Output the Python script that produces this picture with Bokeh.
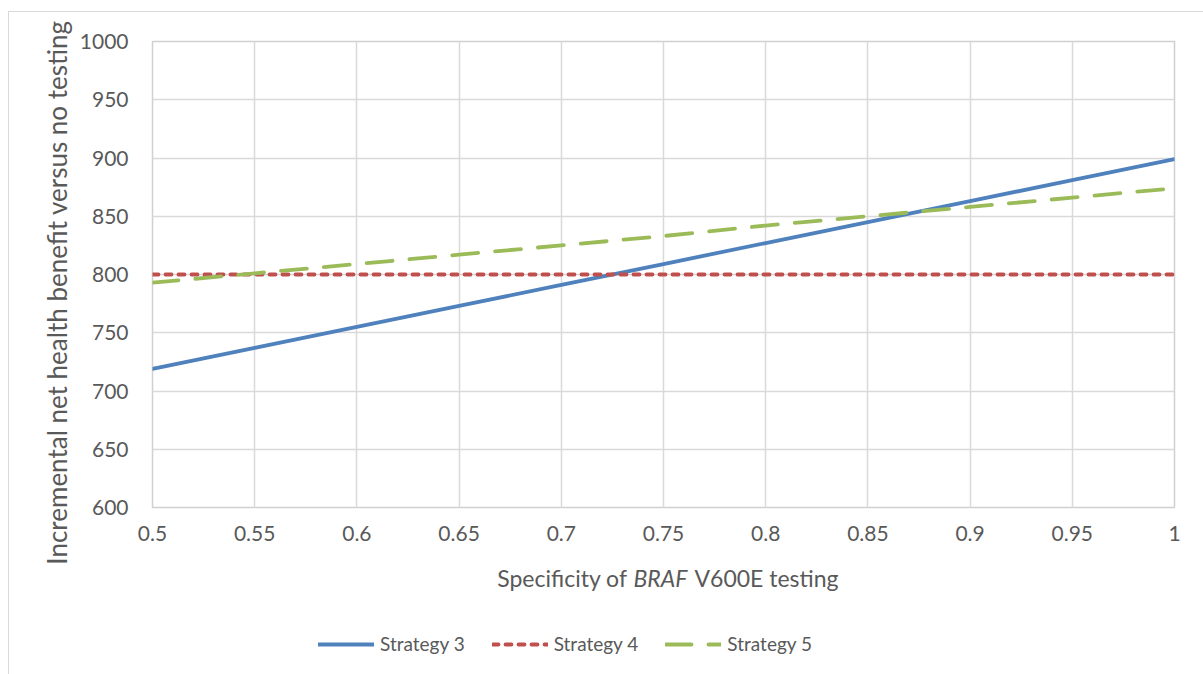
from math import pi
from bokeh.plotting import figure
from bokeh.models import Range1d, FixedTicker, Label, Legend, LegendItem
from bokeh.layouts import column, row
from bokeh.embed import file_html
from bokeh.resources import INLINE

# ---- data ----
specificity = [0.5, 0.55, 0.6, 0.65, 0.7, 0.75, 0.8, 0.85, 0.9, 0.95, 1.0]
strategy3 = [719, 737, 755, 773, 791, 809, 827, 845, 863, 881, 899]
strategy4 = [800, 800, 800, 800, 800, 800, 800, 800, 800, 800, 800]
strategy5 = [793, 801, 809, 817, 825, 833, 842, 850, 858, 866, 874]
series = [strategy3, strategy4, strategy5]
series_names = ["Strategy 3", "Strategy 4", "Strategy 5"]
series_colors = ["#4F81BD", "#C0504D", "#9BBB59"]
series_dashes = ["solid", "6 7", "26 17"]
x_ticks = [0.5, 0.55, 0.6, 0.65, 0.7, 0.75, 0.8, 0.85, 0.9, 0.95, 1.0]
x_tick_labels = ["0.5", "0.55", "0.6", "0.65", "0.7", "0.75", "0.8", "0.85", "0.9", "0.95", "1"]
y_ticks = [600, 650, 700, 750, 800, 850, 900, 950, 1000]
x_title_parts = ["Specificity of", "BRAF", "V600E testing"]
y_title = "Incremental net health benefit versus no testing"

FONT = "Lato"
TXT = "#595959"
GRID = "#d9d9d9"
LW = 3.8


def blank(width, height):
    f = figure(width=width, height=height, output_backend="svg", toolbar_location=None,
               x_range=Range1d(0, width), y_range=Range1d(0, height),
               min_border_left=0, min_border_right=0, min_border_top=0, min_border_bottom=0)
    f.axis.visible = False
    f.grid.visible = False
    f.outline_line_color = None
    f.background_fill_color = "white"
    f.border_fill_color = "white"
    return f


# ---- main chart ----
p = figure(width=1127, height=544, output_backend="svg", toolbar_location=None,
           x_range=Range1d(0.5, 1.0), y_range=Range1d(600, 1000),
           min_border_left=76, min_border_right=29, min_border_top=29, min_border_bottom=49)
p.background_fill_color = "white"
p.border_fill_color = "white"
p.outline_line_color = "#d0d0d0"
p.outline_line_width = 1.5

for ax in (p.xaxis[0], p.yaxis[0]):
    ax.axis_line_color = None
    ax.major_tick_line_color = None
    ax.minor_tick_line_color = None
    ax.major_tick_out = 0
    ax.major_tick_in = 0
    ax.minor_tick_out = 0
    ax.minor_tick_in = 0
    ax.major_label_text_font = FONT
    ax.major_label_text_font_size = "21px"
    ax.major_label_text_color = TXT

p.xaxis.ticker = FixedTicker(ticks=x_ticks)
p.xaxis.major_label_overrides = dict(zip(x_ticks, x_tick_labels))
p.xaxis.major_label_standoff = 18
p.yaxis.ticker = FixedTicker(ticks=y_ticks)
p.yaxis.major_label_standoff = 24

p.xgrid.ticker = FixedTicker(ticks=x_ticks)
p.ygrid.ticker = FixedTicker(ticks=y_ticks)
for g in (p.xgrid[0], p.ygrid[0]):
    g.grid_line_color = GRID
    g.grid_line_width = 1.5

for ys, c, d in zip(series, series_colors, series_dashes):
    p.line(specificity, ys, line_color=c, line_width=LW, line_dash=d, line_cap="round")

common = dict(x_units="screen", y_units="screen", text_font=FONT,
              text_color=TXT, text_baseline="middle")

# ---- left strip: y axis title ----
p_left = blank(67, 662)
p_left.add_layout(Label(x=47, y=382, text=y_title, angle=pi / 2, text_align="center",
                        text_font_size="26px", **common))

# ---- bottom strip: x axis title and legend (frame aligned with main frame) ----
p_bottom = blank(1127, 118)
p_bottom.add_layout(Label(x=475, y=97, text=x_title_parts[0], text_align="right",
                          text_font_size="23px", **common))
p_bottom.add_layout(Label(x=481, y=97, text=x_title_parts[1], text_align="left",
                          text_font_style="italic", text_font_size="23px", **common))
p_bottom.add_layout(Label(x=542, y=97, text=x_title_parts[2], text_align="left",
                          text_font_size="23px", **common))

# legend glyph sources: the same series, lying outside this strip's visible range
legend_renderers = [p_bottom.line(specificity, ys, line_color=c, line_width=LW, line_dash=d, line_cap="round")
                    for ys, c, d in zip(series, series_colors, series_dashes)]
legend = Legend(items=[LegendItem(label=n, renderers=[r]) for n, r in zip(series_names, legend_renderers)],
                orientation="horizontal", location=(166, 19))
legend.glyph_width = 56
legend.glyph_height = 20
legend.label_standoff = 6
legend.spacing = 27
legend.padding = 0
legend.margin = 0
legend.border_line_color = None
legend.background_fill_alpha = 0
legend.label_text_font = FONT
legend.label_text_font_size = "19px"
legend.label_text_color = TXT
p_bottom.add_layout(legend)

page = row(p_left, column(p, p_bottom),
           styles={"margin-left": "8px", "margin-top": "11px",
                   "border-top": "1px solid #d9d9d9", "border-left": "1px solid #d9d9d9"})

open("out.html", "w").write(file_html(page, INLINE))
